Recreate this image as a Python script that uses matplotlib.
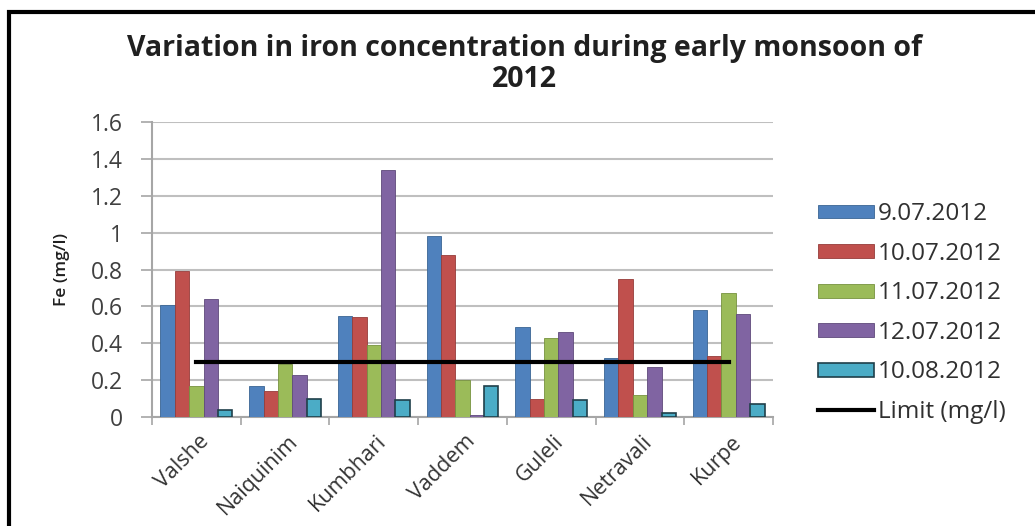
import numpy as np
import matplotlib.pyplot as plt
from matplotlib.patches import Rectangle
from matplotlib.transforms import ScaledTranslation

plt.rcParams['font.family'] = ['Open Sans', 'DejaVu Sans']

sites = ['Valshe', 'Naiquinim', 'Kumbhari', 'Vaddem', 'Guleli', 'Netravali', 'Kurpe']
dates = ['9.07.2012', '10.07.2012', '11.07.2012', '12.07.2012', '10.08.2012']

fe_0907 = [0.61, 0.17, 0.55, 0.98, 0.49, 0.32, 0.58]
fe_1007 = [0.79, 0.14, 0.54, 0.88, 0.10, 0.75, 0.33]
fe_1107 = [0.17, 0.29, 0.39, 0.20, 0.43, 0.12, 0.67]
fe_1207 = [0.64, 0.23, 1.34, 0.01, 0.46, 0.27, 0.56]
fe_1008 = [0.04, 0.10, 0.09, 0.17, 0.09, 0.02, 0.07]
limit = [0.3] * 7

series = [fe_0907, fe_1007, fe_1107, fe_1207, fe_1008]
colors = ['#4F81BD', '#C0504D', '#9BBB59', '#8064A2', '#4BACC6']
edges = ['#3A6594', '#963C3A', '#77923F', '#5F4A7B', '#1F3F4A']

fig = plt.figure(figsize=(10.35, 5.26), dpi=100)
ax = fig.add_axes([0.1469, 0.2072, 0.6, 0.5608])

x = np.arange(len(sites))
w = 0.162
handles = []
for i, (vals, c, ec) in enumerate(zip(series, colors, edges)):
    b = ax.bar(x + (i - 2) * w, vals, w, color=c, edgecolor=ec, linewidth=1.2 if i == 4 else 0.6,
               label=dates[i], zorder=3)
    handles.append(b)
ln, = ax.plot(x, limit, color='black', linewidth=3, label='Limit (mg/l)', zorder=4)
handles.append(ln)

ax.set_xlim(-0.5, 6.5)
ax.set_ylim(0, 1.6)
ax.set_yticks(np.arange(0, 1.61, 0.2))
ax.set_yticklabels(['0', '0.2', '0.4', '0.6', '0.8', '1', '1.2', '1.4', '1.6'])
ax.yaxis.grid(True, color='#BFBFBF', linewidth=1.5, zorder=0)
ax.set_xticks(x)
ax.set_xticklabels(sites, rotation=45, ha='right', va='top', rotation_mode='anchor')
ax.set_xticks(np.arange(-0.5, 7, 1), minor=True)
ax.tick_params(axis='x', which='major', length=0, labelsize=15.5, colors='#333333', pad=2)
ax.tick_params(axis='x', which='minor', length=6, color='#A6A6A6', width=1.2)
ax.tick_params(axis='y', length=8, color='#A6A6A6', width=1.2, labelsize=16.5,
               labelcolor='#404040', pad=13)
# nudge the rotated labels down, after tick_params (it resets transforms)
for lab in ax.get_xticklabels():
    lab.set_transform(lab.get_transform() + ScaledTranslation(0.02, -0.11, fig.dpi_scale_trans))
for s in ['top', 'right']:
    ax.spines[s].set_visible(False)
for s in ['left', 'bottom']:
    ax.spines[s].set_color('#A6A6A6')
    ax.spines[s].set_linewidth(1.5)

fig.text(62 / 1035, 1 - 269 / 526, 'Fe (mg/l)', rotation=90, ha='center', va='center',
         fontsize=12.5, fontweight='semibold', color='#202020')

fig.text(0.507, 0.879, 'Variation in iron concentration during early monsoon of\n2012',
         ha='center', va='center', fontsize=20.5, fontweight='bold', color='#202020',
         linespacing=1.1)

ax.legend(handles=handles, loc='center left', bbox_to_anchor=(818 / 1035, 1 - 313 / 526),
          bbox_transform=fig.transFigure, frameon=False, fontsize=17.5,
          handlelength=2.3, handleheight=0.5, handletextpad=0.15, labelspacing=0.64,
          borderpad=0, borderaxespad=0, labelcolor='#303030')

fig.patches.append(Rectangle((9 / 1035, -0.1), 1.2, 1 - 12 / 526 + 0.1, transform=fig.transFigure,
                             fill=False, edgecolor='black', linewidth=3, zorder=10))

plt.savefig('out.png', dpi=100)
